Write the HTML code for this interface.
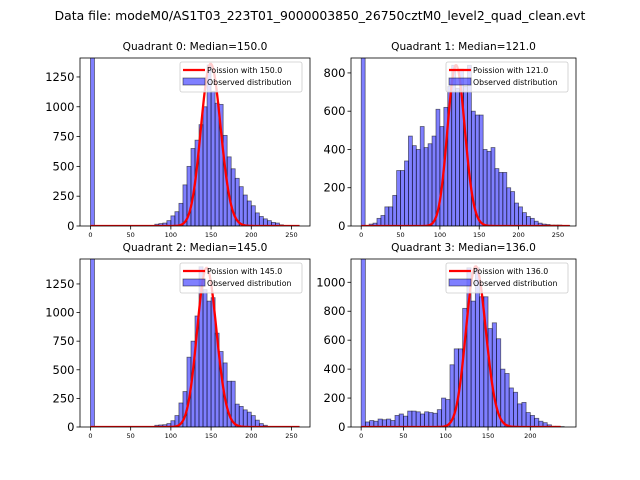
<!DOCTYPE html>
<html><head><meta charset="utf-8"><style>
body{margin:0;background:#fff;}
svg{display:block;font-family:"DejaVu Sans","Liberation Sans",sans-serif;}
</style></head><body>
<svg id="fig" width="640" height="480" viewBox="0 0 640 480">
<text x="320" y="20" font-size="12.4" text-anchor="middle">Data file: modeM0/AS1T03_223T01_9000003850_26750cztM0_level2_quad_clean.evt</text>
</svg>
<script>
const binWidth = 5;
const q0Counts = [3000,0,0,0,0,0,0,0,0,0,0,0,0,0,0,0,15,20,25,45,85,120,190,345,500,650,720,850,1000,1350,1130,1030,1020,760,580,480,400,330,260,210,170,110,80,60,45,30,25,10,5,0,0,0];
const q1Counts = [3000,0,10,15,40,55,100,100,160,290,290,340,470,420,400,520,410,430,470,610,520,620,730,840,720,820,730,840,600,580,580,400,390,410,300,280,280,200,180,120,100,70,50,40,25,15,10,8,5,5,5,3,3];
const q2Counts = [3000,0,0,0,0,0,0,0,0,0,0,0,0,0,0,0,15,18,20,30,55,100,210,310,610,750,970,1400,1200,1100,1130,820,660,560,400,400,200,180,150,130,100,60,30,15,5,0,0,0,0,0,0,0];
const q3Counts = [3000,35,45,40,55,50,55,45,80,90,75,110,110,105,90,105,100,95,120,200,190,430,540,540,820,1100,870,1100,900,900,680,720,610,400,370,270,240,160,170,100,80,60,40,30,15,5,5,3];
const medians = [150.0,121.0,145.0,136.0];
const peakHeights = [1360,840,1390,1110];
const curveMax = [260,265,260,236];
const yTicks0 = [0,250,500,750,1000,1250];
const yTicks1 = [0,200,400,600,800];
const yTicks2 = [0,250,500,750,1000,1250];
const yTicks3 = [0,200,400,600,800,1000];
const xTicks012 = [0,50,100,150,200,250];
const xTicks3 = [0,50,100,150,200];

const NS = "http://www.w3.org/2000/svg";
const svg = document.getElementById('fig');
function mk(tag, attrs, parent){const e=document.createElementNS(NS,tag);for(const k in attrs)e.setAttribute(k,attrs[k]);(parent||svg).appendChild(e);return e;}
function lgamma(z){const g=7,c=[0.99999999999980993,676.5203681218851,-1259.1392167224028,771.32342877765313,-176.61502916214059,12.507343278686905,-0.13857109526572012,9.9843695780195716e-6,1.5056327351493116e-7];z-=1;let x=c[0];for(let i=1;i<g+2;i++)x+=c[i]/(z+i);const t=z+g+0.5;return 0.5*Math.log(2*Math.PI)+(z+0.5)*Math.log(t)-t+Math.log(x);}

const panels = [
 {counts:q0Counts,box:[80,58,310,226],xd:[-13,273],yd:[0,1409],yt:yTicks0,xt:xTicks012},
 {counts:q1Counts,box:[351,58,576,226],xd:[-13,273],yd:[0,878],yt:yTicks1,xt:xTicks012},
 {counts:q2Counts,box:[80,259,310,427],xd:[-13,273],yd:[0,1468],yt:yTicks2,xt:xTicks012},
 {counts:q3Counts,box:[351,259,576,427],xd:[-12,254],yd:[0,1161],yt:yTicks3,xt:xTicks3}
];
panels.forEach((p,i)=>{
  const [l,t,r,b]=p.box;
  const g=mk('g',{});
  
  
  const xs=v=>l+(v-p.xd[0])/(p.xd[1]-p.xd[0])*(r-l);
  const ys=v=>b-(v-p.yd[0])/(p.yd[1]-p.yd[0])*(b-t);
  const cp=mk('clipPath',{id:'cp'+i},g);mk('rect',{x:l,y:t,width:r-l,height:b-t},cp);
  const title=mk('text',{x:(l+r)/2,y:t-8,'font-size':'10.6','text-anchor':'middle'},g);
  title.textContent='Quadrant '+i+': Median='+medians[i].toFixed(1);
  
  
  const bars=mk('g',{'clip-path':'url(#cp'+i+')'},g);
  p.counts.forEach((c,k)=>{
    if(c<=0)return;
    const x0=xs(k*binWidth),x1=xs((k+1)*binWidth);
    const rc=mk('rect',{x:x0,y:ys(c),width:x1-x0,height:ys(0)-ys(c),fill:'rgba(0,0,255,0.5)',stroke:'rgba(0,0,0,0.55)','stroke-width':'0.8'},bars);
    
    
  });
  const lam=medians[i];
  const pk=Math.exp(Math.floor(lam)*Math.log(lam)-lam-lgamma(Math.floor(lam)+1));
  let d='';
  for(let x=0;x<=curveMax[i];x+=1){
    const v=peakHeights[i]*Math.exp(x*Math.log(lam)-lam-lgamma(x+1))/pk;
    d+=(x?'L':'M')+xs(x).toFixed(2)+','+ys(v).toFixed(2);
  }
  const ln=mk('path',{d:d,fill:'none',stroke:'red','stroke-width':'2.3','clip-path':'url(#cp'+i+')'},g);
  
  
  mk('rect',{x:l,y:t,width:r-l,height:b-t,fill:'none',stroke:'#000','stroke-width':'0.8'},g);
  p.yt.forEach(v=>{const y=ys(v);mk('line',{x1:l-3.5,x2:l,y1:y,y2:y,stroke:'#000','stroke-width':'0.8'},g);
    const tx=mk('text',{x:l-5.5,y:y+4,'font-size':'11.5','text-anchor':'end'},g);tx.textContent=v;
    
    });
  p.xt.forEach(v=>{const x=xs(v);mk('line',{x1:x,x2:x,y1:b,y2:b+3.5,stroke:'#000','stroke-width':'0.8'},g);
    const tx=mk('text',{x:x,y:b+11,'font-size':'6.5','text-anchor':'middle'},g);tx.textContent=v;
    
    });
  const lg=mk('g',{},g);
  
  
  const lx=r-130,ly=t+4;
  mk('rect',{x:lx,y:ly,width:122,height:30,rx:2,fill:'rgba(255,255,255,0.8)',stroke:'#ccc','stroke-width':'0.8'},lg);
  mk('line',{x1:lx+3,x2:lx+25,y1:ly+8,y2:ly+8,stroke:'red','stroke-width':'2.3'},lg);
  mk('rect',{x:lx+3,y:ly+16,width:22,height:7,fill:'rgba(0,0,255,0.5)',stroke:'rgba(0,0,0,0.55)','stroke-width':'0.8'},lg);
  const t1=mk('text',{x:lx+27,y:ly+11,'font-size':'7.8'},lg);t1.textContent='Poission with '+lam.toFixed(1);
  const t2=mk('text',{x:lx+27,y:ly+23,'font-size':'7.8'},lg);t2.textContent='Observed distribution';
});
</script>
</body></html>
